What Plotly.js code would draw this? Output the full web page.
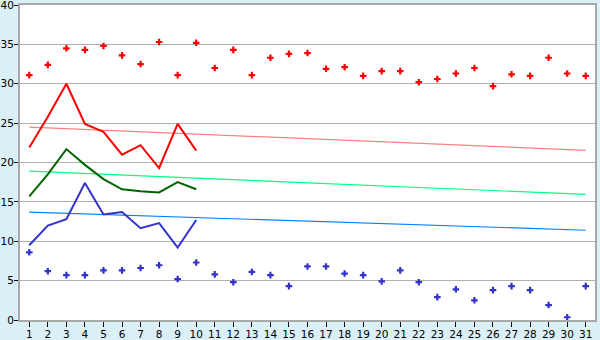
<!DOCTYPE html>
<html>
<head>
<meta charset="utf-8">
<script src="https://cdn.plot.ly/plotly-3.0.1.min.js"></script>
<style>html,body{margin:0;padding:0;background:#DAEFF6;}#chart{width:600px;height:340px;}</style>
</head>
<body>
<div id="chart"></div>
<script>
const days = Array.from({length: 31}, (_, i) => i + 1);
const lineDays = [1,2,3,4,5,6,7,8,9,10];

const redPoints = [31.1,32.4,34.5,34.3,34.8,33.6,32.5,35.3,31.1,35.2,32.0,34.3,31.1,33.3,33.8,33.9,31.9,32.1,31.0,31.6,31.6,30.2,30.6,31.3,32.0,29.7,31.2,31.0,33.3,31.3,31.0];
const bluePoints = [8.6,6.2,5.7,5.7,6.3,6.3,6.6,6.95,5.2,7.3,5.8,4.8,6.1,5.7,4.3,6.8,6.8,5.9,5.7,4.9,6.3,4.8,2.9,3.9,2.5,3.8,4.3,3.8,1.9,0.35,4.3];

const redLine = [21.9,25.8,30.0,24.9,23.9,21.0,22.2,19.3,24.9,21.5];
const greenLine = [15.7,18.5,21.7,19.7,17.9,16.6,16.35,16.2,17.5,16.6];
const blueLine = [9.5,12.0,12.8,17.4,13.4,13.7,11.65,12.3,9.2,12.7];

const trendX = [1, 31];
const redTrend = [24.5, 21.55];
const greenTrend = [18.9, 15.95];
const blueTrend = [13.7, 11.4];

const traces = [
  {x: trendX, y: redTrend, mode: 'lines', line: {color: '#FF8080', width: 1.2}},
  {x: trendX, y: greenTrend, mode: 'lines', line: {color: '#00FF80', width: 1.2}},
  {x: trendX, y: blueTrend, mode: 'lines', line: {color: '#0080FF', width: 1.2}},
  {x: lineDays, y: redLine, mode: 'lines', line: {color: '#FF0000', width: 2}},
  {x: lineDays, y: greenLine, mode: 'lines', line: {color: '#006600', width: 2}},
  {x: lineDays, y: blueLine, mode: 'lines', line: {color: '#3333CC', width: 2}},
  {x: days, y: redPoints, mode: 'markers', marker: {symbol: 'cross', size: 5.5, color: '#FF0000'}},
  {x: days, y: bluePoints, mode: 'markers', marker: {symbol: 'cross', size: 5.5, color: '#3333CC'}}
];

const layout = {
  width: 600, height: 340,
  margin: {l: 20, r: 5, t: 5, b: 20, pad: 0},
  paper_bgcolor: '#DAEFF6',
  plot_bgcolor: '#FFFFFF',
  showlegend: false,
  font: {family: 'DejaVu Sans, Verdana, sans-serif', size: 10, color: '#000'},
  xaxis: {
    range: [0.5, 31.5], tickvals: days, ticktext: days.map(String),
    showgrid: false, zeroline: false,
    showline: true, mirror: true, linecolor: '#A8A8A8', linewidth: 2,
    ticks: 'outside', ticklen: 5, tickcolor: '#000', tickwidth: 1,
    ticklabelstandoff: -2, ticklabeloverflow: 'allow',
    tickfont: {size: 10.5}
  },
  yaxis: {
    range: [0, 40], tickvals: [0,5,10,15,20,25,30,35,40],
    showgrid: true, gridcolor: '#B0B0B0', gridwidth: 1, zeroline: false,
    showline: true, mirror: true, linecolor: '#A8A8A8', linewidth: 2,
    ticks: 'outside', ticklen: 4, tickcolor: '#000', tickwidth: 1,
    ticklabelstandoff: -2, ticklabeloverflow: 'allow',
    tickfont: {size: 10.5}
  }
};

Plotly.newPlot('chart', traces, layout, {staticPlot: true, displayModeBar: false});
</script>
</body>
</html>
